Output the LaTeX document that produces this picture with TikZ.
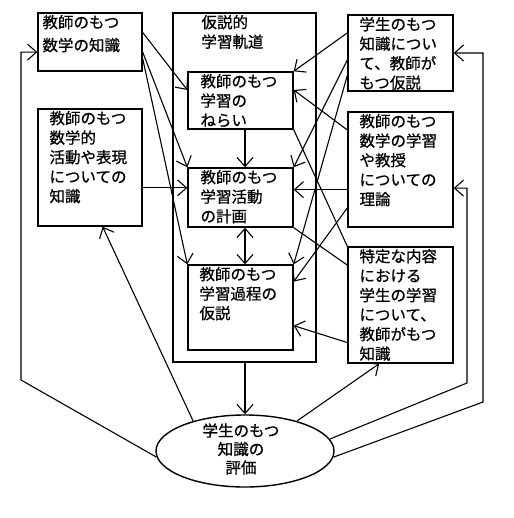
\documentclass[tikz,border=0pt]{standalone}
\usepackage{fontspec}
\newfontfamily\jpfont[FakeBold=0.8]{Noto Sans CJK JP}
\usepackage{tikz}
\usetikzlibrary{shapes.geometric, arrows.meta, calc}

\tikzset{
  %% Box frame (text is set by a ktext node)
  kbox/.style={
    rectangle, draw=black, line width=1.4pt,
    inner sep=0pt
  },
  %% Box text, top left corner
  ktext/.style={
    anchor=north west, align=left,
    font=\jpfont\fontsize{15.5}{19.5}\selectfont,
    inner xsep=#1, inner ysep=2.5pt
  },
  ktext/.default=12pt,
  %% Arrows and plain links
  arr/.style={-{Straight Barb[length=9pt,width=16pt]},
              draw=black, line width=1.1pt},
  darr/.style={{Straight Barb[length=9pt,width=16pt]}-%
               {Straight Barb[length=9pt,width=16pt]},
               draw=black, line width=1.1pt},
  lnk/.style={draw=black, line width=1.1pt},
}

\begin{document}
\begin{tikzpicture}[x=1pt, y=-1pt]
  \useasboundingbox (0,0) rectangle (513,518);

  %% Left column
  \node[kbox, minimum width=104pt, minimum height=58pt] (mathk) at (90,42) {};
  \node[ktext=5pt] (mathkt) at (mathk.north west) {教師のもつ\\[3.5pt]数学の知識};
  \node[kbox, minimum width=104pt, minimum height=117pt] (actk) at (90,167.5) {};
  \node[ktext] (actkt) at (actk.north west)
       {教師のもつ\\数学的\\活動や表現\\についての\\知識};

  %% Hypothetical learning trajectory
  \node[kbox, minimum width=143pt, minimum height=349pt] (hlt) at (244.5,187.5) {};
  \node[ktext=29pt] (hltt) at (hlt.north west) {仮説的\\学習軌道};
  \node[kbox, minimum width=105pt, minimum height=57pt] (goal) at (240.5,100.5) {};
  \node[ktext=13pt] (goalt) at (goal.north west) {教師のもつ\\学習の\\ねらい};
  \node[kbox, minimum width=105pt, minimum height=59pt] (plan) at (240.5,197.5) {};
  \node[ktext=13pt] (plant) at (plan.north west) {教師のもつ\\学習活動\\の計画};
  \node[kbox, minimum width=105pt, minimum height=85pt] (proc) at (240.5,307.5) {};
  \node[ktext] (proct) at (proc.north west) {教師のもつ\\学習過程の\\仮説};

  %% Right column
  \node[kbox, minimum width=105pt, minimum height=76pt] (hypk) at (400.5,53) {};
  \node[ktext] (hypkt) at (hypk.north west)
       {学生のもつ\\知識につい\\て、教師が\\もつ仮説};
  \node[kbox, minimum width=105pt, minimum height=115pt] (theory) at (400.5,169.5) {};
  \node[ktext] (theoryt) at (theory.north west)
       {教師のもつ\\数学の学習\\や教授\\についての\\理論};
  \node[kbox, minimum width=105pt, minimum height=116pt] (learnk) at (400.5,305) {};
  \node[ktext] (learnkt) at (learnk.north west)
       {特定な内容\\における\\学生の学習\\について、\\教師がもつ\\知識};

  %% Assessment
  \node[ellipse, draw=black, line width=1.4pt, inner sep=0pt,
        minimum width=178pt, minimum height=72pt] (assess) at (245,451) {};
  \node[align=center, font=\jpfont\fontsize{15.5}{18.5}\selectfont]
       (assesst) at (241,449) {学生のもつ\\知識の\\評価};

  %% Arrows from the left column
  \draw[arr] ($(mathk.north east)!.34!(mathk.south east)$)
          -- ($(goal.north west)!.32!(goal.south west)$);
  \draw[arr] ($(mathk.north east)!.67!(mathk.south east)$) -- (plan.north west);
  \draw[arr] ($(mathk.north east)!.78!(mathk.south east)$) -- (proc.north west);
  \coordinate (planl) at ($(plan.north west)!.34!(plan.south west)$);
  \draw[arr] (actk.east |- planl) -- (planl);

  %% Inside the trajectory
  \draw[arr] (goal.south -| assess.center) -- (plan.north -| assess.center);
  \draw[darr] (plan.south -| assess.center) -- (proc.north -| assess.center);

  %% Arrows from the right column
  \draw[arr] ($(hypk.north west)!.24!(hypk.south west)$) -- (goal.north east);
  \draw[arr] ($(hypk.north west)!.59!(hypk.south west)$) -- (plan.north east);
  \draw[arr] ($(hypk.north west)!.79!(hypk.south west)$) -- (proc.north east);
  \draw[arr] ($(theory.north west)!.16!(theory.south west)$)
          -- ($(goal.north east)!.32!(goal.south east)$);
  \coordinate (planr) at ($(plan.north east)!.37!(plan.south east)$);
  \draw[arr] (theory.west |- planr) -- (planr);
  \draw[arr] ($(theory.north west)!.83!(theory.south west)$)
          -- ($(proc.north east)!.2!(proc.south east)$);
  \draw[lnk] (goal.south east) -- (learnk.north west);
  \draw[lnk] (plan.south east) -- ($(learnk.north west)!.16!(learnk.south west)$);
  \draw[arr] ($(learnk.north west)!.82!(learnk.south west)$)
          -- ($(proc.north east)!.71!(proc.south east)$);

  %% Assessment loop
  \draw[arr] (hlt.south -| assess.center) -- (assess.north);
  \draw[arr] (assess.30) -- ($(learnk.south west)!.3!(learnk.south east)$);
  \draw[arr] (assess.150) -- ($(actk.south west)!.62!(actk.south east)$);
  \coordinate (lbend) at (21,380);
  \draw[arr] (assess.184) -- (lbend)
          |- ($(mathk.north west)!.67!(mathk.south west)$);
  \coordinate (rbend) at (467,383);
  \draw[arr] (assess.8) -- (rbend)
          |- ($(theory.north east)!.66!(theory.south east)$);
  \coordinate (rrbend) at (483,402);
  \draw[arr] (assess.356) -- (rrbend) |- (hypk.east);

\end{tikzpicture}
\end{document}
